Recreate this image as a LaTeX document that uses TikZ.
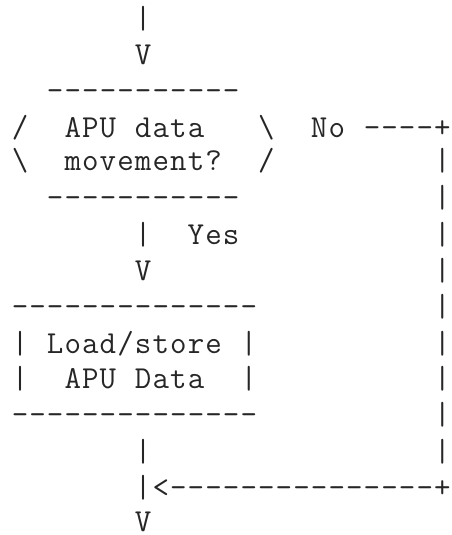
\documentclass[tikz,border=0pt]{standalone}
\makeatletter
\newlength\asccw
\setlength\asccw{17.6pt}
\def\ascdot{.}
\newcommand\ascline[1]{%
  \@tfor\ascx:=#1\do{%
    \ifx\ascx\ascdot\hbox to\asccw{\hss}\else\hbox to\asccw{\hss\ascx\hss}\fi}}
\makeatother
\tikzset{
  asc/.style={anchor=base west, inner sep=0pt, outer sep=0pt,
    font=\fontsize{32pt}{36pt}\selectfont\ttfamily, text=black!85}
}
\begin{document}
\begin{tikzpicture}
\useasboundingbox (0,0) rectangle (452pt,-535pt);
\node[asc] (l1)  at (11.2pt,-28.5pt)  {\ascline{.......|}};
\node[asc] (l2)  at (11.2pt,-64.0pt)  {\ascline{.......V}};
\node[asc] (l3)  at (11.2pt,-100.1pt) {\ascline{..-----------}};
\node[asc] (l4)  at (11.2pt,-137.0pt) {\ascline{/..APU.data...\textbackslash..No.----+}};
\node[asc] (l5)  at (11.2pt,-170.5pt) {\ascline{\textbackslash..movement?../.........|}};
\node[asc] (l6)  at (11.2pt,-207.5pt) {\ascline{..-----------...........|}};
\node[asc] (l7)  at (11.2pt,-244.4pt) {\ascline{.......|..Yes...........|}};
\node[asc] (l8)  at (11.2pt,-280.5pt) {\ascline{.......V................|}};
\node[asc] (l9)  at (11.2pt,-316.0pt) {\ascline{--------------..........|}};
\node[asc] (l10) at (11.2pt,-353.0pt) {\ascline{|.Load/store.|..........|}};
\node[asc] (l11) at (11.2pt,-388.5pt) {\ascline{|..APU.Data..|..........|}};
\node[asc] (l12) at (11.2pt,-424.5pt) {\ascline{--------------..........|}};
\node[asc] (l13) at (11.2pt,-461.0pt) {\ascline{.......|................|}};
\node[asc] (l14) at (11.2pt,-497.0pt) {\ascline{.......|<---------------+}};
\node[asc] (l15) at (11.2pt,-531.5pt) {\ascline{.......V}};
\end{tikzpicture}
\end{document}
